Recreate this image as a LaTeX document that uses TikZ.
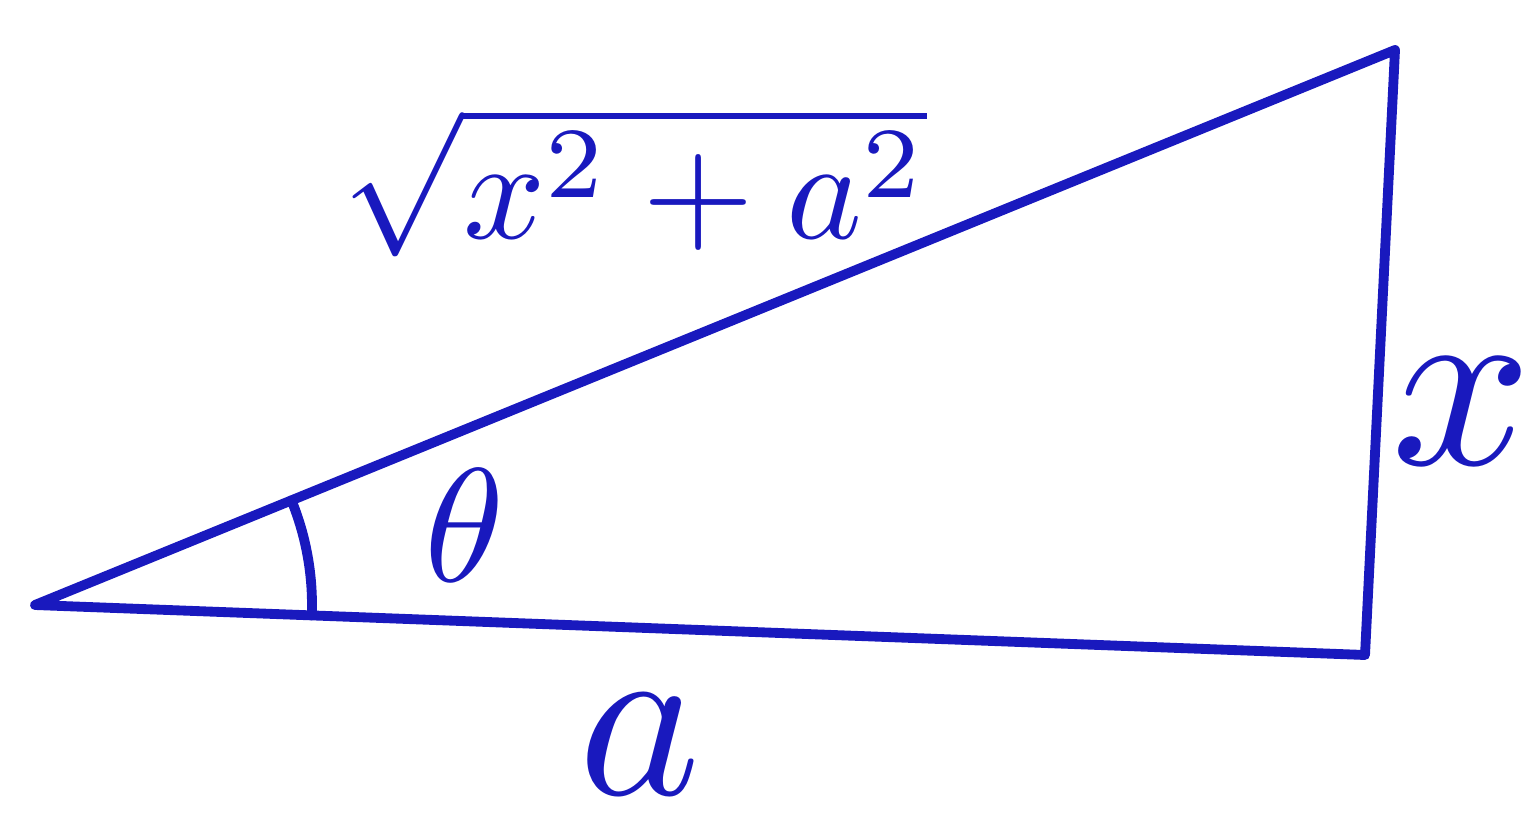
\documentclass[tikz,border=0pt]{standalone}
\usepackage{amsmath,amssymb}
\usepackage{tikz}
\definecolor{stylo}{RGB}{25,25,190}

\begin{document}
\begin{tikzpicture}[x=1cm, y=1cm, line width=2.8pt, color=stylo, line join=round, line cap=round]
    \useasboundingbox (0,0) rectangle (15.27,8.37);
    % Les sommets du triangle
    \coordinate (A) at (0.35,2.32);
    \coordinate (B) at (13.65,1.82);
    \coordinate (C) at (13.95,7.87);

    % Le triangle
    \draw (A) -- (B) -- (C) -- cycle;

    % L'angle theta
    \draw ([shift={(-2.15:2.77)}]A) arc[start angle=-2.15, end angle=22.2, radius=2.77];
    \node[scale=4.6, inner sep=0pt] (theta) at (4.65,3.12) {$\theta$};

    % Les longueurs
    \node[scale=6.6, inner sep=0pt] (a) at (6.40,0.92) {$a$};
    \node[scale=7, inner sep=0pt] (x) at (14.62,4.25) {$x$};
    \node[scale=4.1, inner sep=0pt] (hyp) at (6.35,6.55) {$\sqrt{x^2+a^2}$};
\end{tikzpicture}
\end{document}
